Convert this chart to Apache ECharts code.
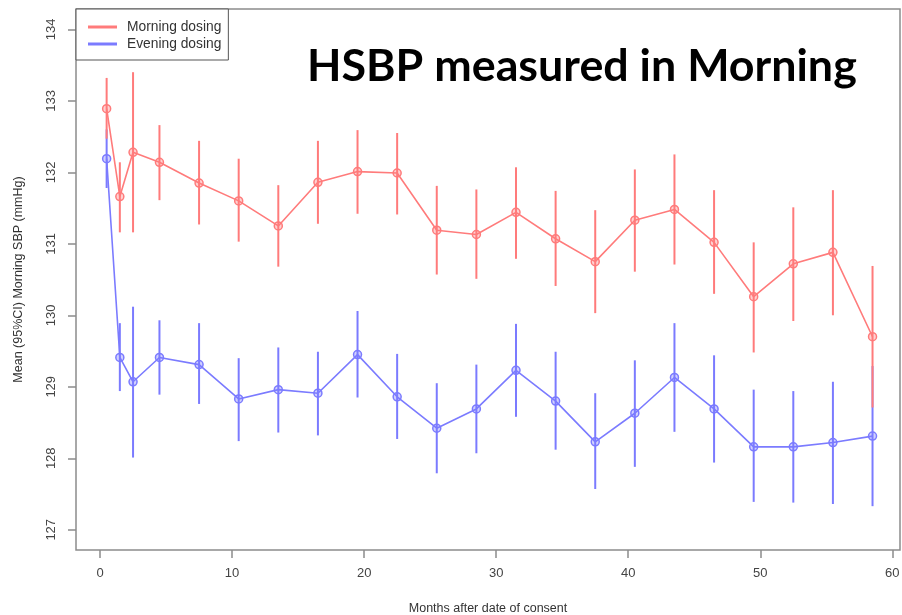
<!DOCTYPE html>
<html>
<head>
<meta charset="utf-8">
<script src="https://cdn.jsdelivr.net/npm/echarts@6/dist/echarts.min.js"></script>
<style>
html,body{margin:0;padding:0;background:#fff;}
#chart{width:902px;height:615px;}
</style>
</head>
<body>
<div id="chart"></div>
<script>
var months = [0.5,1.5,2.5,4.5,7.5,10.5,13.5,16.5,19.5,22.5,25.5,28.5,31.5,34.5,37.5,40.5,43.5,46.5,49.5,52.5,55.5,58.5];

var morningMean = [132.89,131.66,132.28,132.14,131.85,131.60,131.25,131.86,132.01,131.99,131.19,131.13,131.44,131.07,130.75,131.33,131.48,131.02,130.26,130.72,130.88,129.70];
var morningLow  = [132.47,131.16,131.16,131.61,131.27,131.03,130.68,131.28,131.42,131.41,130.57,130.51,130.79,130.41,130.03,130.61,130.71,130.30,129.48,129.92,130.00,128.71];
var morningHigh = [133.32,132.14,133.40,132.66,132.44,132.19,131.82,132.44,132.59,132.55,131.81,131.76,132.07,131.74,131.47,132.04,132.25,131.75,131.02,131.51,131.75,130.69];

var eveningMean = [132.19,129.41,129.07,129.41,129.31,128.83,128.96,128.91,129.45,128.86,128.42,128.69,129.23,128.80,128.23,128.63,129.13,128.69,128.16,128.16,128.22,128.31];
var eveningLow  = [131.78,128.94,128.01,128.89,128.76,128.24,128.36,128.32,128.85,128.27,127.79,128.07,128.58,128.12,127.57,127.88,128.37,127.94,127.39,127.38,127.36,127.33];
var eveningHigh = [132.60,129.89,130.12,129.93,129.89,129.40,129.55,129.49,130.06,129.46,129.05,129.31,129.88,129.49,128.91,129.37,129.89,129.44,128.96,128.94,129.07,129.29];

var xTicks = [0,10,20,30,40,50,60];
var yTicks = [127,128,129,130,131,132,133,134];

var seriesNames = ['Morning dosing','Evening dosing'];
var titleText = 'HSBP measured in Morning';
var xTitle = 'Months after date of consent';
var yTitle = 'Mean (95%CI) Morning SBP (mmHg)';

var RED = '#ff7b7b';
var BLUE = '#7b7bff';

function pts(mean){ return months.map(function(m,i){ return [m, mean[i]]; }); }
function bars(lo,hi){ return months.map(function(m,i){ return [m, lo[i], hi[i]]; }); }

function errRender(color){
  return function(params, api){
    var x = api.value(0);
    var p1 = api.coord([x, api.value(1)]);
    var p2 = api.coord([x, api.value(2)]);
    return {type:'line', shape:{x1:p1[0],y1:p1[1],x2:p2[0],y2:p2[1]}, style:{stroke:color, lineWidth:2}};
  };
}

var chart = echarts.init(document.getElementById('chart'), null, {renderer:'canvas'});
var labelFont = {fontFamily:'Liberation Sans, Arial, sans-serif', color:'#444', fontSize:13};

chart.setOption({
  animation:false,
  backgroundColor:'#fff',
  grid:{left:76, top:9, width:824, height:541, show:true, borderColor:'#8c8c8c', borderWidth:1.5, containLabel:false, outerBoundsMode:'none'},
  legend:{
    data:seriesNames, orient:'vertical', left:76, top:9,
    backgroundColor:'#fff', borderColor:'#555', borderWidth:1,
    padding:[11,7,9,12], itemGap:3, itemWidth:27, itemHeight:1, icon:'rect',
    textStyle:{fontFamily:'Liberation Sans, Arial, sans-serif', fontSize:13.8, color:'#333', padding:[0,0,0,6]}
  },
  graphic:[{type:'text', left:307, top:44, style:{text:titleText, font:'bold 44.8px Lato, "Open Sans", sans-serif', fill:'#000'}}],
  xAxis:{
    type:'value', min:-1.82, max:60.58,
    name:xTitle, nameLocation:'middle', nameGap:52,
    nameTextStyle:{fontFamily:'Liberation Sans, Arial, sans-serif', fontSize:12.5, color:'#333'},
    axisLine:{show:false, onZero:false},
    axisTick:{show:true, length:8, inside:false, customValues:xTicks, lineStyle:{color:'#8c8c8c', width:1.5}},
    axisLabel:Object.assign({margin:17, customValues:xTicks}, labelFont),
    splitLine:{show:false}
  },
  yAxis:{
    type:'value', min:126.717, max:134.284,
    name:yTitle, nameLocation:'middle', nameGap:51,
    nameTextStyle:{fontFamily:'Liberation Sans, Arial, sans-serif', fontSize:12.5, color:'#333'},
    axisLine:{show:false, onZero:false},
    axisTick:{show:true, length:8, inside:false, customValues:yTicks, lineStyle:{color:'#8c8c8c', width:1.5}},
    axisLabel:Object.assign({margin:18, rotate:90, customValues:yTicks}, labelFont),
    splitLine:{show:false}
  },
  series:[
    {type:'custom', name:'eveningCI', data:bars(eveningLow,eveningHigh), renderItem:errRender(BLUE), z:2, silent:true},
    {type:'line', name:seriesNames[1], data:pts(eveningMean), color:BLUE, symbol:'circle', symbolSize:8,
      itemStyle:{color:'rgba(123,123,255,0.35)', borderColor:BLUE, borderWidth:1.5},
      lineStyle:{color:BLUE, width:1.6}, z:3},
    {type:'custom', name:'morningCI', data:bars(morningLow,morningHigh), renderItem:errRender(RED), z:4, silent:true},
    {type:'line', name:seriesNames[0], data:pts(morningMean), color:RED, symbol:'circle', symbolSize:8,
      itemStyle:{color:'rgba(255,123,123,0.35)', borderColor:RED, borderWidth:1.5},
      lineStyle:{color:RED, width:1.6}, z:5}
  ]
});
</script>
</body>
</html>
